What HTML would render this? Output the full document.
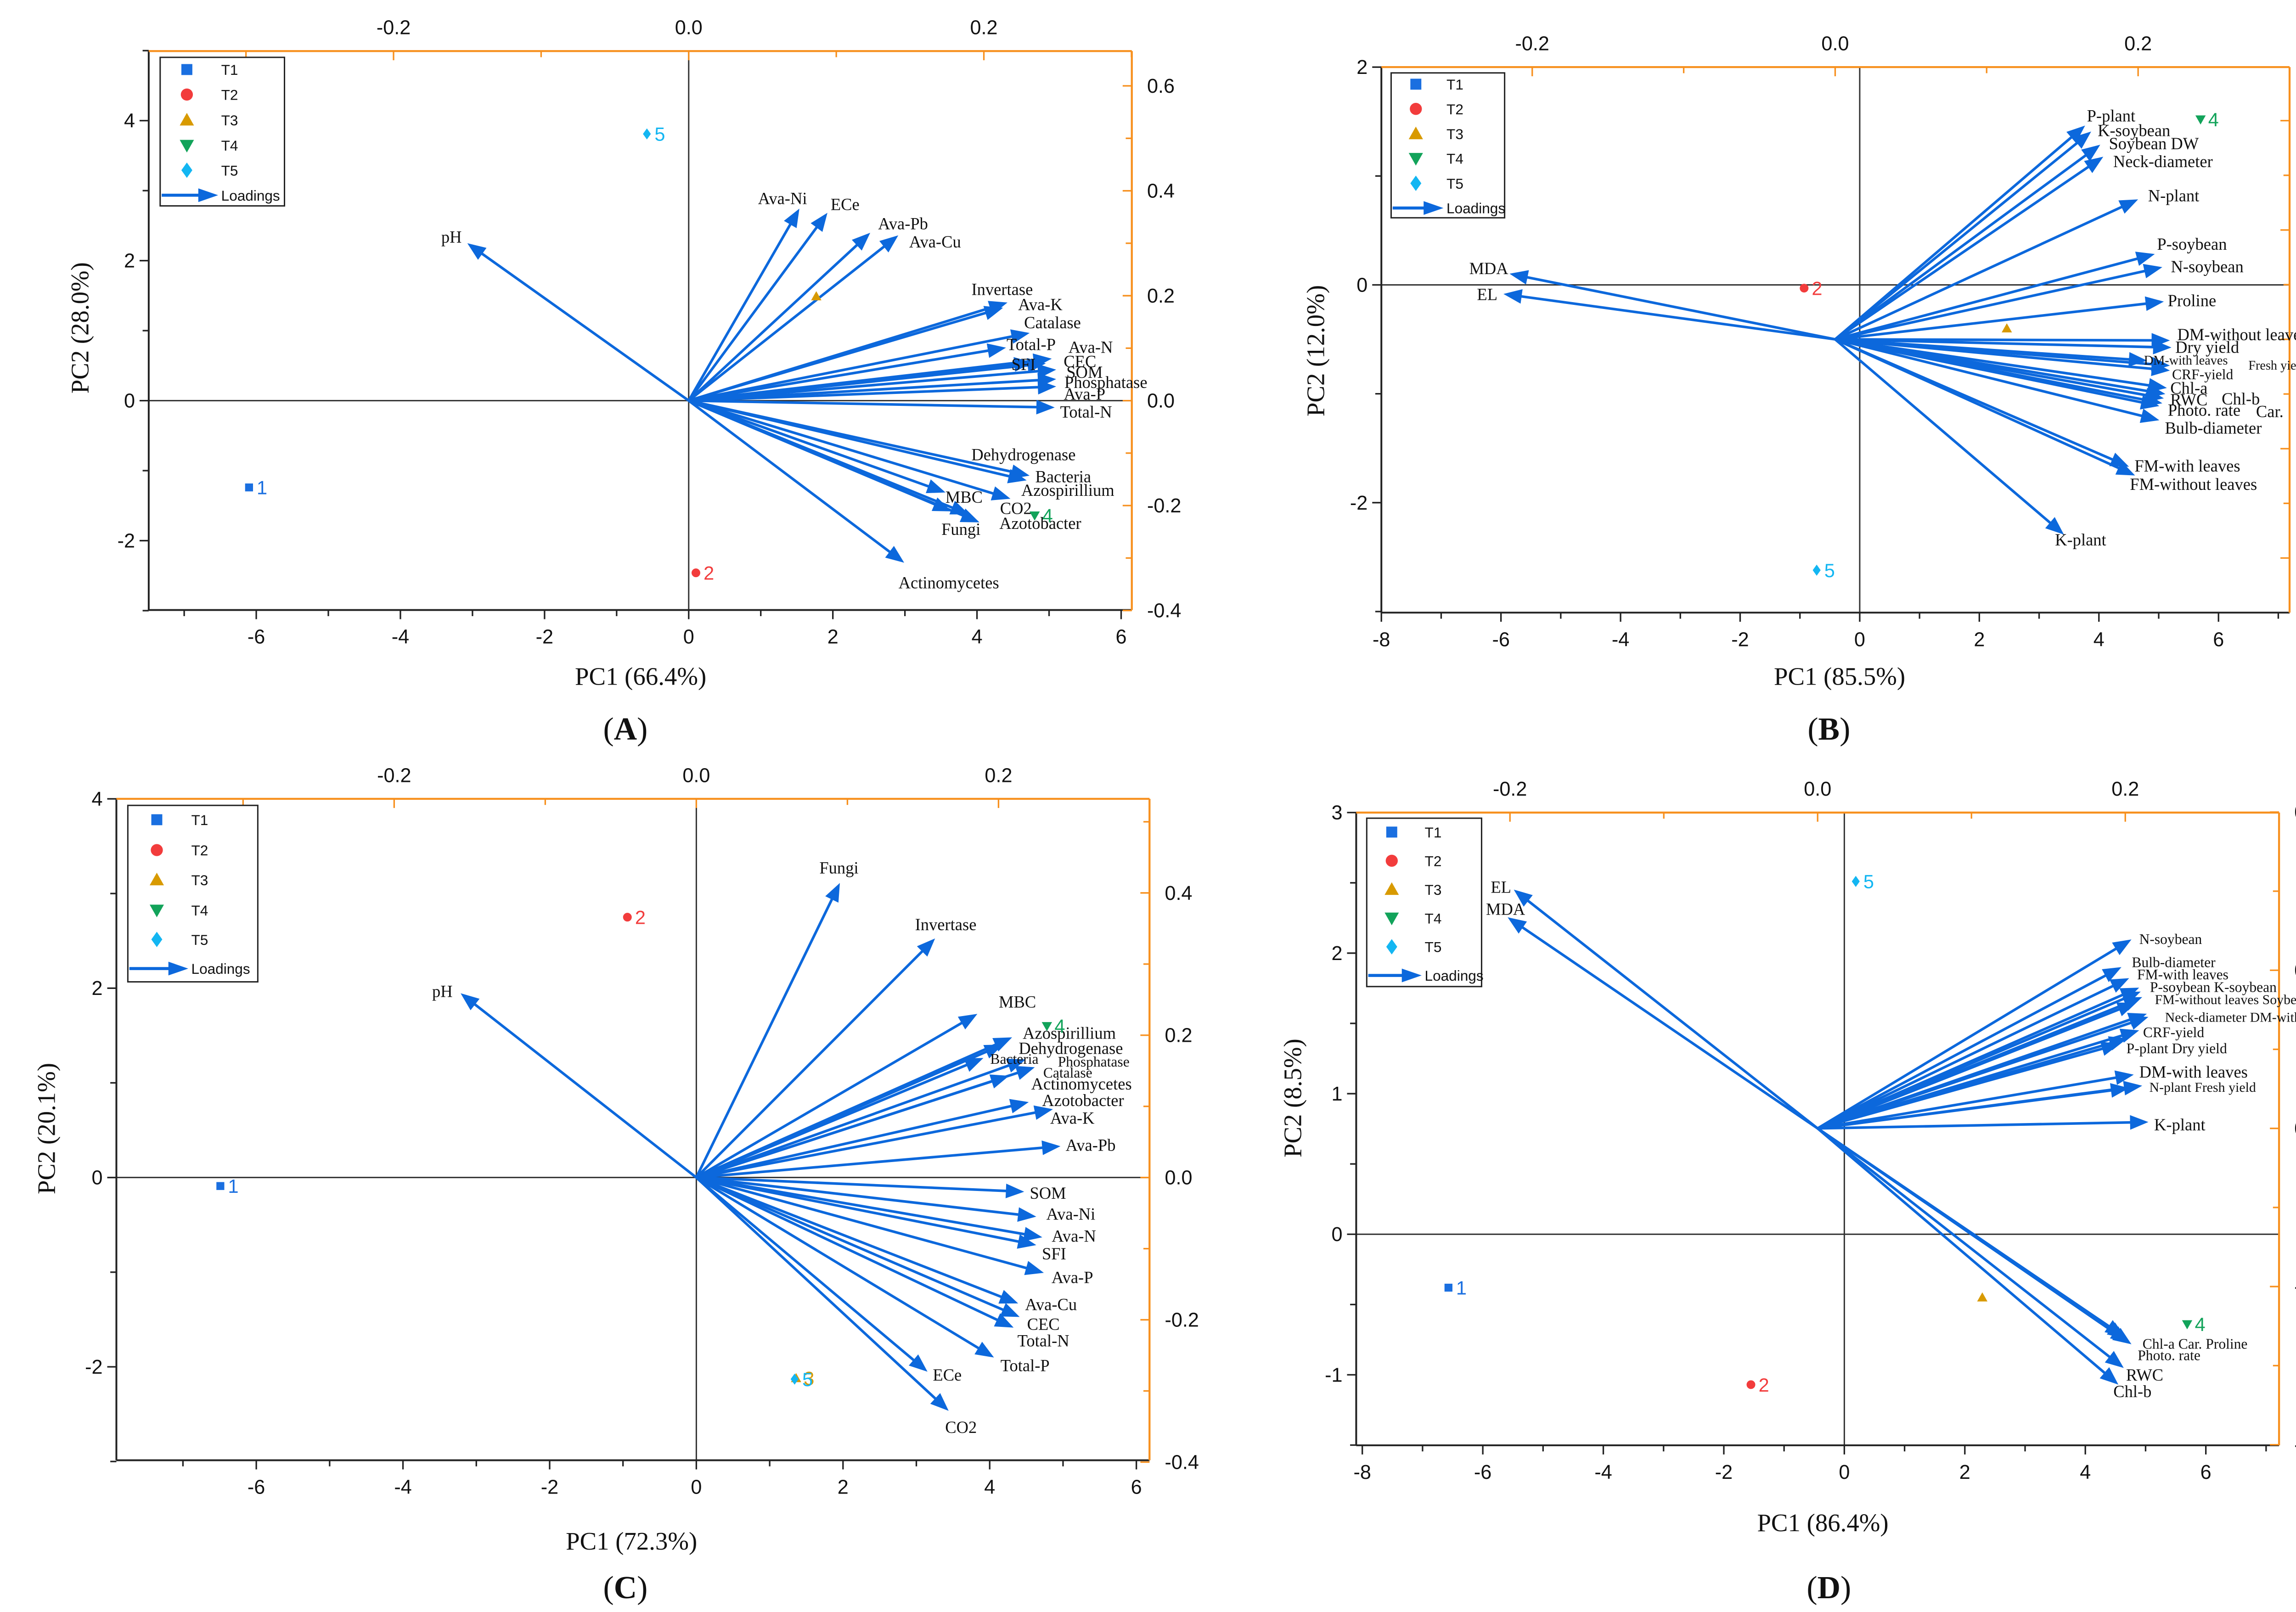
<!DOCTYPE html>
<html><head><meta charset="utf-8"><style>
html,body{margin:0;padding:0;background:#fff;}
svg{display:block;}
</style></head><body>
<svg id="fig" xmlns="http://www.w3.org/2000/svg" width="5182" height="3511" viewBox="0 0 1560 1057" preserveAspectRatio="none">
<rect x="0" y="0" width="1560" height="1057" fill="#fff"/>
</svg>
<script>
// ===== Panel A data =====
const aLoadNames=["pH","Ava-Ni","ECe","Ava-Pb","Ava-Cu","Invertase","Ava-K","Catalase","Total-P","Ava-N","CEC","SFI","SOM","Phosphatase","Ava-P","Total-N","Dehydrogenase","Bacteria","Azospirillium","MBC","CO2","Azotobacter","Fungi","Actinomycetes"];
const aLoadPC1=[-0.150,0.075,0.094,0.123,0.142,0.216,0.213,0.231,0.215,0.246,0.242,0.233,0.249,0.249,0.249,0.248,0.231,0.229,0.218,0.174,0.190,0.197,0.178,0.146];
const aLoadPC2=[0.300,0.366,0.358,0.320,0.315,0.187,0.177,0.129,0.101,0.080,0.071,0.073,0.059,0.041,0.027,-0.013,-0.143,-0.152,-0.187,-0.175,-0.217,-0.232,-0.211,-0.309];
const aScorePC1=[-6.10,0.10,1.77,4.80,-0.58];
const aScorePC2=[-1.24,-2.46,1.49,-1.64,3.81];
// ===== Panel B data =====
const bLoadNames=["P-plant","K-soybean","Soybean DW","Neck-diameter","N-plant","P-soybean","N-soybean","Proline","DM-without leaves","Dry yield","DM-with leaves","Fresh yield","CRF-yield","Chl-a","RWC","Chl-b","Photo. rate","Car.","Bulb-diameter","FM-with leaves","FM-without leaves","K-plant","MDA","EL"];
const bLoadPC1=[0.165,0.169,0.175,0.177,0.200,0.211,0.216,0.217,0.221,0.222,0.206,0.221,0.221,0.219,0.218,0.217,0.216,0.214,0.214,0.194,0.198,0.151,-0.215,-0.219];
const bLoadPC2=[0.391,0.380,0.356,0.334,0.256,0.156,0.132,0.069,-0.002,-0.015,-0.039,-0.048,-0.057,-0.089,-0.100,-0.108,-0.117,-0.122,-0.148,-0.233,-0.249,-0.357,0.120,0.083];
const bScorePC1=[-6.46,-0.93,2.46,5.70,-0.72];
const bScorePC2=[1.49,-0.03,-0.40,1.52,-2.62];
// ===== Panel C data =====
const cLoadNames=["pH","Fungi","Invertase","MBC","Azospirillium","Dehydrogenase","Bacteria","Phosphatase","Catalase","Actinomycetes","Azotobacter","Ava-K","Ava-Pb","SOM","Ava-Ni","Ava-N","SFI","Ava-P","Ava-Cu","CEC","Total-N","Total-P","ECe","CO2"];
const cLoadPC1=[-0.156,0.095,0.158,0.186,0.209,0.203,0.190,0.218,0.224,0.207,0.220,0.236,0.241,0.217,0.225,0.229,0.225,0.230,0.213,0.214,0.210,0.197,0.153,0.167];
const cLoadPC2=[0.259,0.414,0.336,0.230,0.197,0.187,0.168,0.166,0.155,0.143,0.106,0.096,0.044,-0.020,-0.055,-0.084,-0.095,-0.134,-0.177,-0.196,-0.211,-0.253,-0.273,-0.328];
const cScorePC1=[-6.49,-0.94,1.36,4.78,1.34];
const cScorePC2=[-0.09,2.75,-2.12,1.60,-2.13];
// ===== Panel D data =====
const dLoadNames=["EL","MDA","N-soybean","Bulb-diameter","FM-with leaves","P-soybean","K-soybean","FM-without leaves","Soybean DW","Neck-diameter","DM-without leaves","CRF-yield","P-plant","Dry yield","DM-with leaves","N-plant","Fresh yield","K-plant","Chl-a","Car.","Proline","Photo. rate","RWC","Chl-b"];
const dLoadPC1=[-0.1975,-0.2015,0.204,0.1975,0.2025,0.209,0.210,0.211,0.207,0.214,0.215,0.209,0.1965,0.2015,0.2055,0.2025,0.211,0.215,0.2025,0.2005,0.204,0.199,0.199,0.1955];
const dLoadPC2=[0.302,0.267,0.239,0.204,0.190,0.178,0.173,0.166,0.159,0.145,0.141,0.124,0.107,0.114,0.068,0.051,0.054,0.008,-0.271,-0.266,-0.273,-0.263,-0.303,-0.324];
const dScorePC1=[-6.57,-1.55,2.29,5.69,0.19];
const dScorePC2=[-0.38,-1.07,-0.45,-0.64,2.51];

const treatNames=["T1","T2","T3","T4","T5"];
const pointLabels=["1","2","3","4","5"];

// ===== layout (not data) =====
const SVGNS="http://www.w3.org/2000/svg";
const svg=document.getElementById('fig');
const COLORS=["#1a6fe0","#f23c3c","#d89a00","#12a35a","#13b6f2"];
const ARROW="#0c68dc";
const ORANGE="#f7901e";

function mk(tag,attrs,parent){const e=document.createElementNS(SVGNS,tag);for(const k in attrs)e.setAttribute(k,attrs[k]);(parent||svg).appendChild(e);return e;}

const panels=[
 {id:"a",letter:"A",L:97.5,R:742,T:33.5,B:400,sx0:451.5,sxu:47.25,sy0:262.7,syu:45.9,lx0:451.5,lxu:967.5,ly0:262.7,lyu:344,
  xt:[-6,-4,-2,0,2,4,6],xm:[-7,-5,-3,-1,1,3,5],yt:[-2,0,2,4],ym:[-3,-1,1,3,5],tt:[-0.2,0,0.2],tm:[-0.3,-0.1,0.1,0.3],rt:[-0.4,-0.2,0,0.2,0.4,0.6],rm:[-0.3,-0.1,0.1,0.3,0.5],
  xtitle:"PC1 (66.4%)",ytitle:"PC2 (28.0%)",xtx:420,xty:449,ytx:58,yty:215,plx:410,ply:485,
  leg:[105,37.6,81.5,97.4],legRows:[45.6,62,78.7,95.3,111.6,128],legMx:122.5,legTx:145,
  names:aLoadNames,lp1:aLoadPC1,lp2:aLoadPC2,s1:aScorePC1,s2:aScorePC2,show3:true,
  labels:[["pH",296,155.3],["Ava-Ni",513,130],["ECe",554,134],["Ava-Pb",592,146.6],["Ava-Cu",613,158.4],["Invertase",657,189.7],["Ava-K",682,199.6],["Catalase",690,211.4],["Total-P",676,225.7],["Ava-N",715,227.6],["CEC",708,236.9],["SFI",671,238.8],["SOM",711,243.9],["Phosphatase",725,250.6],["Ava-P",711,258.2],["Total-N",712,270],["Dehydrogenase",671,298],["Bacteria",697,312.4],["Azospirillium",700,321.4],["MBC",632,325.8],["CO2",666,333.2],["Azotobacter",682,343],["Fungi",630,346.9],["Actinomycetes",622,382]]},
 {id:"b",letter:"B",L:905.6,R:1501,T:44,B:401.7,sx0:1219.2,sxu:39.2,sy0:186.8,syu:71.4,lx0:1203.1,lxu:993,ly0:222.5,lyu:358.5,
  xt:[-8,-6,-4,-2,0,2,4,6],xm:[-7,-5,-3,-1,1,3,5,7],yt:[-2,0,2],ym:[-3,-1,1],tt:[-0.2,0,0.2],tm:[-0.3,-0.1,0.1,0.3],rt:[-0.4,-0.2,0,0.2,0.4],rm:[-0.5,-0.3,-0.1,0.1,0.3,0.5],
  xtitle:"PC1 (85.5%)",ytitle:"PC2 (12.0%)",xtx:1206,xty:449,ytx:868,yty:230,plx:1199,ply:485,
  leg:[912,47.8,74.4,95],legRows:[55.2,71.4,87.7,103.9,120.2,136.4],legMx:928.2,legTx:948.3,
  names:bLoadNames,lp1:bLoadPC1,lp2:bLoadPC2,s1:bScorePC1,s2:bScorePC2,show3:true,
  labels:[["P-plant",1384,75.9],["K-soybean",1399,85.4],["Soybean DW",1412,94],["Neck-diameter",1418,105.8],["N-plant",1425,128.2],["P-soybean",1437,160],["N-soybean",1447,174.7],["Proline",1437,197],["DM-without leaves",1470,219.3],["Dry yield",1447,227.6],["DM-with leaves",1433,235.3,8.5],["Fresh yield",1493,238.5,8.5],["CRF-yield",1444,244.8,9.5],["Chl-a",1435,254.4],["RWC",1435,262],["Chl-b",1469,261.4],["Photo. rate",1445,268.8],["Car.",1488,269.7],["Bulb-diameter",1451,280.5],["FM-with leaves",1434,305.4],["FM-without leaves",1438,317.5],["K-plant",1364,353.9],["MDA",976,176],["EL",975,192.9]]},
 {id:"c",letter:"C",L:76.3,R:753.6,T:523.8,B:957.5,sx0:456.5,sxu:48.08,sy0:772.1,syu:62.07,lx0:456.5,lxu:990.5,ly0:772.1,lyu:466.5,
  xt:[-6,-4,-2,0,2,4,6],xm:[-7,-5,-3,-1,1,3,5],yt:[-2,0,2,4],ym:[-3,-1,1,3],tt:[-0.2,0,0.2],tm:[-0.3,-0.1,0.1,0.3],rt:[-0.4,-0.2,0,0.2,0.4],rm:[-0.3,-0.1,0.1,0.3,0.5],
  xtitle:"PC1 (72.3%)",ytitle:"PC2 (20.1%)",xtx:414,xty:1016,ytx:36,yty:740,plx:410,ply:1048,
  leg:[83.8,528.1,85.2,115.7],legRows:[537.5,557.4,576.9,596.8,616,635.1],legMx:102.8,legTx:125.4,
  names:cLoadNames,lp1:cLoadPC1,lp2:cLoadPC2,s1:cScorePC1,s2:cScorePC2,show3:false,
  labels:[["pH",290,650],["Fungi",550,569],["Invertase",620,606.2],["MBC",667,656.8],["Azospirillium",701,677.4],["Dehydrogenase",702,687.2],["Bacteria",665,693.7,9.5],["Phosphatase",717,695.5,9.5],["Catalase",700,702.7,9.5],["Actinomycetes",709,710.6],["Azotobacter",710,721.5],["Ava-K",703,733],["Ava-Pb",715,750.8],["SOM",687,782.2],["Ava-Ni",702,796],["Ava-N",704,810.4],["SFI",691,822],["Ava-P",703,837.5],["Ava-Cu",689,855.2],["CEC",684,868.2],["Total-N",684,879],["Total-P",672,895.3],["ECe",621,901.5],["CO2",630,935.8]]},
 {id:"d",letter:"D",L:889.1,R:1494.1,T:532.8,B:947.7,sx0:1209.1,sxu:39.5,sy0:809.3,syu:92.17,lx0:1191.6,lxu:1008.5,ly0:739.9,lyu:518.5,
  xt:[-8,-6,-4,-2,0,2,4,6],xm:[-7,-5,-3,-1,1,3,5,7],yt:[-1,0,1,2,3],ym:[-1.5,-0.5,0.5,1.5,2.5],tt:[-0.2,0,0.2],tm:[-0.3,-0.1,0.1,0.3],rt:[-0.4,-0.2,0,0.2,0.4],rm:[-0.3,-0.1,0.1,0.3],
  xtitle:"PC1 (86.4%)",ytitle:"PC2 (8.5%)",xtx:1195,xty:1004,ytx:853,yty:720,plx:1199,ply:1048,
  leg:[896,536.5,75.3,110.4],legRows:[545.6,564.4,583.2,602,620.8,639.6],legMx:912.4,legTx:934,
  names:dLoadNames,lp1:dLoadPC1,lp2:dLoadPC2,s1:dScorePC1,s2:dScorePC2,show3:true,
  labels:[["EL",984,581.6],["MDA",987,596.1],["N-soybean",1423,615.2,9.5],["Bulb-diameter",1425,630.4,9.5],["FM-with leaves",1431,638.4,9.5],["P-soybean K-soybean",1451,646.7,9.5],["FM-without leaves Soybean DW",1472,654.6,9],["Neck-diameter DM-without leaves",1482,666.2,9],["CRF-yield",1425,676.3,9.5],["P-plant  Dry yield",1427,686.8,9.5],["DM-with leaves",1438,702.7],["N-plant  Fresh yield",1444,712.1,9],["K-plant",1429,737.4],["Chl-a  Car. Proline",1439,880.5,9.5],["Photo. rate",1422,888.1,9.5],["RWC",1406,901.5],["Chl-b",1398,912.3]]}
];

function fmt1(v){return (Math.abs(v)<1e-9?"0.0":v.toFixed(1));}

panels.forEach(p=>{
  const g=mk('g',{});
  
  
  const xs=v=>p.sx0+v*p.sxu, ys=v=>p.sy0-v*p.syu;
  const lx=v=>p.lx0+v*p.lxu, ly=v=>p.ly0-v*p.lyu;

  // zero lines
  const zh=mk('line',{x1:p.L,x2:p.R,y1:ys(0),y2:ys(0),stroke:"#333",'stroke-width':0.9},g);
  
  const zv=mk('line',{x1:xs(0),x2:xs(0),y1:p.T,y2:p.B,stroke:"#333",'stroke-width':0.9},g);
  

  // axes
  const ax=mk('g',{},g);
  
  mk('line',{x1:p.L,x2:p.R,y1:p.B,y2:p.B,stroke:"#222",'stroke-width':1.2},ax);
  mk('line',{x1:p.L,x2:p.L,y1:p.T,y2:p.B,stroke:"#222",'stroke-width':1.2},ax);
  mk('line',{x1:p.L,x2:p.R,y1:p.T,y2:p.T,stroke:ORANGE,'stroke-width':1.3},ax);
  mk('line',{x1:p.R,x2:p.R,y1:p.T,y2:p.B,stroke:ORANGE,'stroke-width':1.3},ax);
  p.xt.forEach(v=>{const x=xs(v);mk('line',{x1:x,x2:x,y1:p.B,y2:p.B+6,stroke:"#222",'stroke-width':1},ax);
    const t=mk('text',{x:x,y:p.B+22,'font-family':'Liberation Sans, sans-serif','font-size':13,'text-anchor':'middle',fill:'#111'},ax);t.textContent=String(v);
    });
  p.xm.forEach(v=>{const x=xs(v);if(x>p.L-1&&x<p.R+1)mk('line',{x1:x,x2:x,y1:p.B,y2:p.B+4,stroke:"#222",'stroke-width':1},ax);});
  p.yt.forEach(v=>{const y=ys(v);mk('line',{x1:p.L-6,x2:p.L,y1:y,y2:y,stroke:"#222",'stroke-width':1},ax);
    const t=mk('text',{x:p.L-9,y:y+4.5,'font-family':'Liberation Sans, sans-serif','font-size':13,'text-anchor':'end',fill:'#111'},ax);t.textContent=String(v);
    });
  p.ym.forEach(v=>{const y=ys(v);if(y>p.T-1&&y<p.B+1)mk('line',{x1:p.L-4,x2:p.L,y1:y,y2:y,stroke:"#222",'stroke-width':1},ax);});
  p.tt.forEach(v=>{const x=lx(v);mk('line',{x1:x,x2:x,y1:p.T,y2:p.T+6,stroke:ORANGE,'stroke-width':1},ax);
    const t=mk('text',{x:x,y:p.T-11,'font-family':'Liberation Sans, sans-serif','font-size':13,'text-anchor':'middle',fill:'#111'},ax);t.textContent=fmt1(v);
    });
  p.tm.forEach(v=>{const x=lx(v);if(x>p.L&&x<p.R)mk('line',{x1:x,x2:x,y1:p.T,y2:p.T+4,stroke:ORANGE,'stroke-width':1},ax);});
  p.rt.forEach(v=>{const y=ly(v);mk('line',{x1:p.R-6,x2:p.R,y1:y,y2:y,stroke:ORANGE,'stroke-width':1},ax);
    const t=mk('text',{x:p.R+10,y:y+4.5,'font-family':'Liberation Sans, sans-serif','font-size':13,'text-anchor':'start',fill:'#111'},ax);t.textContent=fmt1(v);
    });
  p.rm.forEach(v=>{const y=ly(v);if(y>p.T&&y<p.B)mk('line',{x1:p.R-4,x2:p.R,y1:y,y2:y,stroke:ORANGE,'stroke-width':1},ax);});

  const xt=mk('text',{x:p.xtx,y:p.xty,'font-family':'Liberation Serif, serif','font-size':16.5,'text-anchor':'middle',fill:'#111'},g);xt.textContent=p.xtitle;
  
  const yt=mk('text',{x:p.ytx,y:p.yty,'font-family':'Liberation Serif, serif','font-size':16.5,'text-anchor':'middle',fill:'#111',transform:`rotate(-90 ${p.ytx} ${p.yty})`},g);yt.textContent=p.ytitle;
  
  const pl=mk('text',{x:p.plx,y:p.ply,'font-family':'Liberation Serif, serif','font-size':21,'text-anchor':'middle',fill:'#111'},g);
  pl.innerHTML='(<tspan font-weight="bold">'+p.letter+'</tspan>)';
  

  // loading arrows
  const ox=lx(0), oy=ly(0);
  p.names.forEach((n,i)=>{
    const tx=lx(p.lp1[i]), ty=ly(p.lp2[i]);
    const dx=tx-ox, dy=ty-oy, len=Math.hypot(dx,dy), ux=dx/len, uy=dy/len;
    const hl=12, hw=4.8, bx=tx-ux*hl, by=ty-uy*hl;
    const ag=mk('g',{},g);
    
    
    mk('line',{x1:ox,y1:oy,x2:bx+ux*2,y2:by+uy*2,stroke:ARROW,'stroke-width':1.7},ag);
    mk('polygon',{points:`${tx},${ty} ${bx-uy*hw},${by+ux*hw} ${bx+uy*hw},${by-ux*hw}`,fill:ARROW},ag);
  });
  p.labels.forEach(l=>{
    const t=mk('text',{x:l[1],y:l[2]+3.8,'font-family':'Liberation Serif, serif','font-size':l[3]||11,'text-anchor':'middle',fill:'#111'},g);
    t.textContent=l[0];
    
    
  });

  // score points
  p.s1.forEach((v,i)=>{
    const x=xs(v), y=ys(p.s2[i]), c=COLORS[i];
    const pg=mk('g',{},g);
    
    
    drawMarker(pg,i,x,y,2.6);
    if(i!==2||p.show3===false){
      const t=mk('text',{x:x+5,y:y+4.5,'font-family':'Liberation Sans, sans-serif','font-size':12.5,fill:c},pg);
      t.textContent=pointLabels[i];
    }
  });

  // legend
  const lg=mk('g',{},g);
  
  mk('rect',{x:p.leg[0],y:p.leg[1],width:p.leg[2],height:p.leg[3],fill:'#fff',stroke:'#222','stroke-width':0.9},lg);
  treatNames.forEach((n,i)=>{
    const e=mk('g',{},lg);
    
    
    drawMarker(e,i,p.legMx,p.legRows[i],3.6);
    const t=mk('text',{x:p.legTx,y:p.legRows[i]+3.5,'font-family':'Liberation Sans, sans-serif','font-size':9.5,fill:'#111'},e);t.textContent=n;
  });
  const ly5=p.legRows[5];
  const le=mk('g',{},lg);
  
  
  mk('line',{x1:p.leg[0]+1,y1:ly5,x2:p.legTx-12,y2:ly5,stroke:ARROW,'stroke-width':2},le);
  mk('polygon',{points:`${p.legTx-2},${ly5} ${p.legTx-15},${ly5-4.5} ${p.legTx-15},${ly5+4.5}`,fill:ARROW},le);
  const lt=mk('text',{x:p.legTx,y:ly5+3.5,'font-family':'Liberation Sans, sans-serif','font-size':9.5,fill:'#111'},le);lt.textContent="Loadings";
});

function drawMarker(parent,i,x,y,r){
  const c=COLORS[i];
  if(i===0) mk('rect',{x:x-r,y:y-r,width:2*r,height:2*r,fill:c},parent);
  else if(i===1) mk('circle',{cx:x,cy:y,r:r*1.1,fill:c},parent);
  else if(i===2) mk('polygon',{points:`${x},${y-r*1.3} ${x-r*1.3},${y+r} ${x+r*1.3},${y+r}`,fill:c},parent);
  else if(i===3) mk('polygon',{points:`${x},${y+r*1.3} ${x-r*1.3},${y-r} ${x+r*1.3},${y-r}`,fill:c},parent);
  else mk('polygon',{points:`${x},${y-r*1.4} ${x+r},${y} ${x},${y+r*1.4} ${x-r},${y}`,fill:c},parent);
}
</script>
</body></html>
